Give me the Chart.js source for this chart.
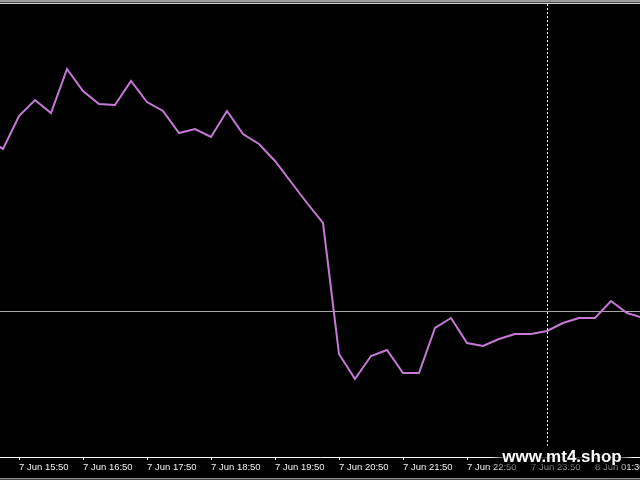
<!DOCTYPE html>
<html>
<head>
<meta charset="utf-8">
<script src="https://cdn.jsdelivr.net/npm/chart.js@4"></script>
<style>
  html, body { margin: 0; padding: 0; background: #000; }
  canvas { display: block; }
</style>
</head>
<body>
<canvas id="mt4-chart" width="640" height="480"></canvas>
<script>
  // M15 closes, bar 0 = 7 Jun 15:20
  const closes = [
    319, 308, 341, 357, 344, 388, 366, 353, 352, 376,
    355, 346, 324, 328, 320, 346, 323, 313, 296, 275,
    254, 234, 103, 78, 101, 107, 84, 84, 129, 139,
    114, 111, 118, 123, 123, 126, 134, 139, 139, 156,
    144, 139
  ];
  // bars that carry a time label on the axis
  const tickBars = [2, 6, 10, 14, 18, 22, 26, 30, 34, 38];
  const tickLabels = [
    '7 Jun 15:50', '7 Jun 16:50', '7 Jun 17:50', '7 Jun 18:50', '7 Jun 19:50',
    '7 Jun 20:50', '7 Jun 21:50', '7 Jun 22:50', '7 Jun 23:50', '8 Jun 01:30'
  ];
  const bidLevel = 146;   // horizontal price line
  const cursorBar = 35;   // vertical dotted period separator
  const firstVisible = 0.8125, visibleBars = 40;
  const yMin = 0, yMax = 453;

  const $ = id => document.getElementById(id);

  const terminalLook = {
    id: 'terminalLook',
    beforeDraw(chart) {
      const { ctx, width, height } = chart;
      ctx.save();
      ctx.fillStyle = '#000';
      ctx.fillRect(0, 0, width, height);
      // window frame
      ctx.fillStyle = '#9a9a9a'; ctx.fillRect(0, 0, width, 2);
      ctx.fillStyle = '#4a4a4a'; ctx.fillRect(0, 2, width, 1);
      ctx.fillStyle = '#d0d0d0'; ctx.fillRect(0, 3, width, 1);
      ctx.fillStyle = '#8c8c8c'; ctx.fillRect(0, 478, width, 1);
      ctx.fillStyle = '#444'; ctx.fillRect(0, 479, width, 1);
      ctx.restore();
    },
    beforeDatasetsDraw(chart) {
      const { ctx, chartArea: a, scales: { y } } = chart;
      const py = Math.round(y.getPixelForValue(bidLevel)) + 0.5;
      ctx.save();
      ctx.strokeStyle = '#a8a8a8';
      ctx.lineWidth = 1;
      ctx.beginPath(); ctx.moveTo(a.left, py); ctx.lineTo(a.right, py); ctx.stroke();
      ctx.restore();
    },
    afterDatasetsDraw(chart) {
      const { ctx, chartArea: a, scales: { x } } = chart;
      const px = Math.round(x.getPixelForValue(cursorBar)) + 0.5;
      ctx.save();
      ctx.strokeStyle = '#ffffff';
      ctx.lineWidth = 1;
      ctx.setLineDash([2, 2]);
      ctx.beginPath(); ctx.moveTo(px, a.top); ctx.lineTo(px, a.bottom - 10); ctx.stroke();
      ctx.restore();
    },
    afterDraw(chart) {
      const ctx = chart.ctx;
      ctx.save();
      ctx.font = 'bold 17px "Liberation Sans", Arial, sans-serif';
      ctx.textAlign = 'center';
      ctx.textBaseline = 'alphabetic';
      // dark halo that dims the axis labels behind the watermark
      ctx.shadowColor = 'rgba(0,0,0,1)';
      ctx.shadowBlur = 14;
      ctx.fillStyle = '#000';
      for (let i = 0; i < 6; i++) ctx.fillText('www.mt4.shop', 562, 462);
      ctx.shadowBlur = 0;
      ctx.fillStyle = '#ffffff';
      ctx.fillText('www.mt4.shop', 562, 462);
      ctx.restore();
    }
  };

  new Chart($('mt4-chart'), {
    type: 'line',
    data: {
      datasets: [{
        data: closes.map((v, i) => ({ x: i, y: v })),
        borderColor: '#c67ad6',
        borderWidth: 2,
        pointRadius: 0,
        tension: 0,
        fill: false
      }]
    },
    options: {
      responsive: false,
      animation: false,
      devicePixelRatio: 1,
      layout: { padding: { top: 4, left: 0, right: 0, bottom: 0 } },
      plugins: { legend: { display: false }, tooltip: { enabled: false } },
      scales: {
        x: {
          type: 'linear',
          bounds: 'data',
          min: firstVisible,
          max: firstVisible + visibleBars,
          afterBuildTicks: s => { s.ticks = tickBars.map(v => ({ value: v })); },
          afterFit: s => { s.height = 23; s.paddingLeft = 0; s.paddingRight = 0; },
          grid: { display: true, drawOnChartArea: false, drawTicks: true, tickLength: 3, color: '#ffffff' },
          border: { display: true, color: '#ffffff', width: 1 },
          ticks: {
            autoSkip: false,
            maxRotation: 0,
            minRotation: 0,
            align: 'start',
            padding: 2,
            color: '#f0f0f0',
            font: { family: '"Liberation Sans", Arial, sans-serif', size: 9.5 },
            callback: (v, i) => tickLabels[i]
          }
        },
        y: { display: false, min: yMin, max: yMax }
      }
    },
    plugins: [terminalLook]
  });
</script>
</body>
</html>
